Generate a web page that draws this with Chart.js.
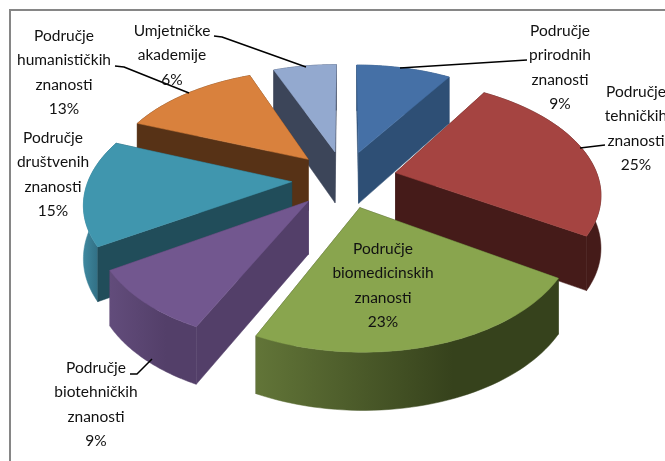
<!DOCTYPE html>
<html>
<head>
<meta charset="utf-8">
<style>html,body{margin:0;padding:0;background:#fff;overflow:hidden}canvas{display:block}</style>
<script src="https://cdn.jsdelivr.net/npm/chart.js@4"></script>
</head>
<body>
<canvas id="c" width="665" height="461"></canvas>
<script>
const categories = ['Područje prirodnih znanosti','Područje tehničkih znanosti','Područje biomedicinskih znanosti','Područje biotehničkih znanosti','Područje društvenih znanosti','Područje humanističkih znanosti','Umjetničke akademije'];
const values = [9,25,23,9,15,13,6];
const topColors = ['#4570a6','#a54441','#89a54e','#72578f','#4096ae','#d9813d','#93a9cf'];
const faceColors = ['#2e4f75','#451b19','#36421c','#533f69','#214d5a','#573216','#3c4559'];
const rimColors = [['#2e4f75','#2e4f75'],['#451b19','#451b19'],['#627538','#36421c'],['#624c7b','#533f69'],['#3f889f','#2b6478'],['#573216','#573216'],['#3c4559','#3c4559']];
const paintOrder = [6,0,5,1,4,3,2];
const labelLines = [['Područje','prirodnih','znanosti'],['Područje','tehničkih','znanosti'],['Područje','biomedicinskih','znanosti'],['Područje','biotehničkih','znanosti'],['Područje','društvenih','znanosti'],['Područje','humanističkih','znanosti'],['Umjetničke','akademije']];
const labelAnchors = [[560,31],[636,92],[383,249],[96,368],[53,138],[64,36],[172,31]];
const leaders = [
  [[527,60],[400,68]],
  [[605,145],[580,148]],
  [],
  [[130,374],[137,374],[152,359]],
  [],
  [[115,66],[124,67],[189,93]],
  [[214,36],[222,37],[306,67]]
];
const VIEW = {cx:344.5, cy:179, A:203, B:110, a:0.165, depth:52, depthSlope:5};
function project(u,v,down){
  const s = 1/(1-VIEW.a*v);
  return [VIEW.cx+VIEW.A*u*s, VIEW.cy+VIEW.B*v*s+(down?VIEW.depth+VIEW.depthSlope*v:0)];
}
function poly(ctx,pts,fill){
  ctx.beginPath();
  pts.forEach((p,i)=>i?ctx.lineTo(p[0],p[1]):ctx.moveTo(p[0],p[1]));
  ctx.closePath();
  ctx.fillStyle=fill; ctx.fill();
  ctx.strokeStyle=fill; ctx.lineWidth=0.5; ctx.stroke();
}
const pie3d = {
  id:'pie3d',
  beforeDraw(chart){
    const ctx=chart.ctx;
    ctx.save();
    ctx.fillStyle='#fff'; ctx.fillRect(0,0,665,461);
    ctx.strokeStyle='#868686'; ctx.lineWidth=2;
    ctx.beginPath(); ctx.moveTo(10,461); ctx.lineTo(10,10); ctx.lineTo(665,10); ctx.stroke();
    ctx.restore();
  },
  beforeDatasetDraw(chart,args){
    const ctx=chart.ctx, arcs=args.meta.data;
    ctx.save();
    paintOrder.forEach(i=>{
      const arc=arcs[i], R=arc.outerRadius, off=arc.options.offset/R;
      const mid=(arc.startAngle+arc.endAngle)/2;
      const ou=off*Math.cos(mid), ov=off*Math.sin(mid);
      const rim=[], n=48;
      for(let k=0;k<=n;k++){
        const t=arc.startAngle+(arc.endAngle-arc.startAngle)*k/n;
        rim.push([ou+Math.cos(t),ov+Math.sin(t)]);
      }
      const top=rim.map(p=>project(p[0],p[1],false));
      const bot=rim.map(p=>project(p[0],p[1],true));
      const aT=project(ou,ov,false), aB=project(ou,ov,true);
      const face=faceColors[i];
      const xs=top.map(p=>p[0]);
      const g=ctx.createLinearGradient(Math.min(...xs),0,Math.max(...xs),0);
      g.addColorStop(0,rimColors[i][0]); g.addColorStop(0.65,rimColors[i][1]); g.addColorStop(1,rimColors[i][1]);
      const faces=[
        {z:(rim[0][1]+ov)/2, pts:[aT,top[0],bot[0],aB], fill:face},
        {z:(rim[n][1]+ov)/2, pts:[aT,top[n],bot[n],aB], fill:face},
        {z:rim[n/2][1], pts:top.concat(bot.slice().reverse()), fill:g}
      ].sort((a,b)=>a.z-b.z);
      faces.forEach(f=>poly(ctx,f.pts,f.fill));
      poly(ctx,[aT].concat(top),arc.options.backgroundColor);
    });
    ctx.restore();
    return false;
  },
  afterDraw(chart){
    const ctx=chart.ctx;
    ctx.save();
    ctx.strokeStyle='#000'; ctx.lineWidth=1.5; ctx.lineJoin='round';
    leaders.forEach(l=>{
      if(!l.length) return;
      ctx.beginPath();
      l.forEach((p,i)=>i?ctx.lineTo(p[0],p[1]):ctx.moveTo(p[0],p[1]));
      ctx.stroke();
    });
    ctx.fillStyle='#111';
    ctx.font='15.5px Lato';
    ctx.textAlign='center'; ctx.textBaseline='middle';
    labelLines.forEach((lines,i)=>{
      const [x,y]=labelAnchors[i];
      lines.concat(values[i]+'%').forEach((t,j)=>ctx.fillText(t,x,y+j*24.3));
    });
    ctx.restore();
  }
};
new Chart(document.getElementById('c'),{
  type:'pie',
  data:{labels:categories,datasets:[{data:values,backgroundColor:topColors,borderWidth:0,offset:26,radius:100}]},
  options:{responsive:false,animation:false,events:[],rotation:0,
    plugins:{legend:{display:false},tooltip:{enabled:false}}},
  plugins:[pie3d]
});
</script>
</body>
</html>
